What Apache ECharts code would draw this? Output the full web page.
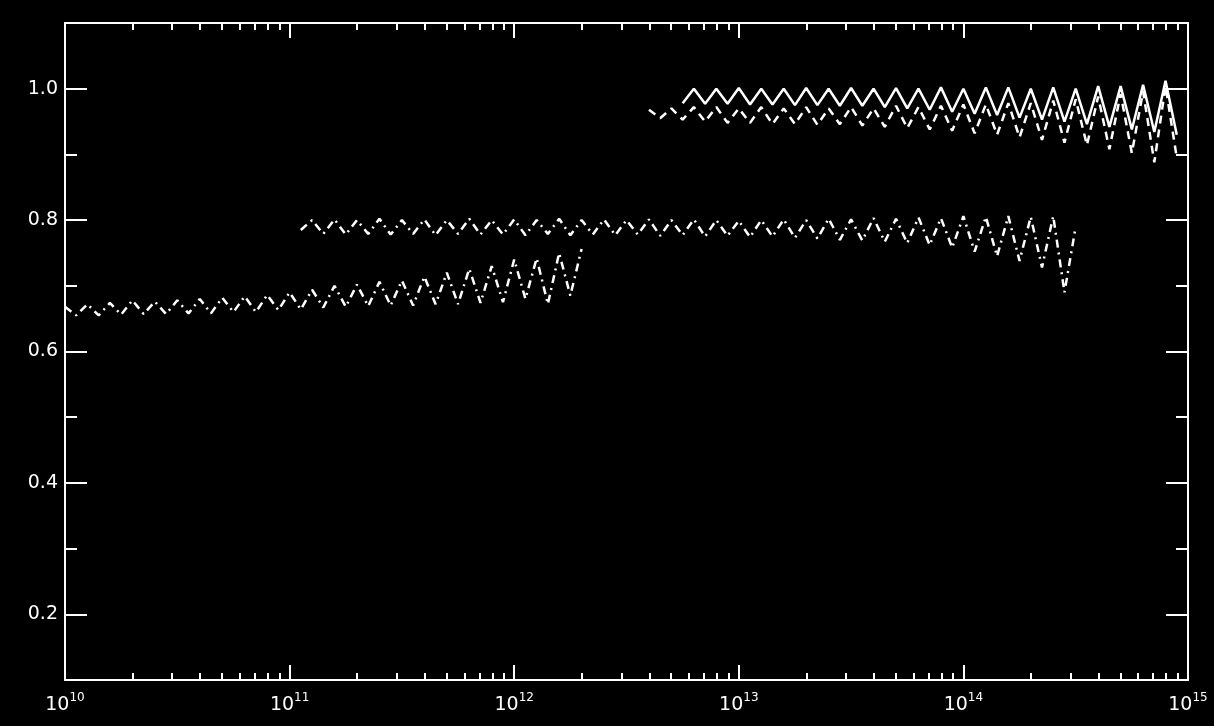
<!DOCTYPE html>
<html>
<head>
<meta charset="utf-8">
<script src="https://cdn.jsdelivr.net/npm/echarts@6/dist/echarts.min.js"></script>
<style>
    html, body {margin: 0; padding: 0; background: #000;}
    #chart {width: 1214px; height: 726px;}
</style>
</head>
<body>
<div id="chart"></div>
<script>
// tick labels
const yLabelValues = [0.2, 0.4, 0.6, 0.8, 1.0]
const yMinorValues = [0.3, 0.5, 0.7, 0.9]
const xDecades = [10, 11, 12, 13, 14]
const xMinorMults = [2, 3, 4, 5, 6, 7, 8, 9]

// series: x as log10 of the value, y
const lowExp = [10.00, 10.05, 10.10, 10.15, 10.20, 10.25, 10.30, 10.35, 10.40, 10.45, 10.50, 10.55, 10.60, 10.65, 10.70, 10.75,
    10.80, 10.85, 10.90, 10.95, 11.00, 11.05, 11.10, 11.15, 11.20, 11.25, 11.30, 11.35, 11.40, 11.45, 11.50, 11.55, 11.60, 11.65,
    11.70, 11.75, 11.80, 11.85, 11.90, 11.95, 12.00, 12.05, 12.10, 12.15, 12.20, 12.25, 12.30]
const lowVal = [0.668, 0.655, 0.672, 0.655, 0.674, 0.656, 0.678, 0.657, 0.676, 0.657, 0.678, 0.658, 0.680, 0.658, 0.682, 0.660,
    0.684, 0.660, 0.686, 0.663, 0.690, 0.664, 0.694, 0.667, 0.700, 0.668, 0.702, 0.669, 0.706, 0.670, 0.708, 0.670, 0.714, 0.672,
    0.720, 0.672, 0.726, 0.674, 0.730, 0.675, 0.740, 0.680, 0.742, 0.672, 0.750, 0.685, 0.756]

const midExp = [11.05, 11.10, 11.15, 11.20, 11.25, 11.30, 11.35, 11.40, 11.45, 11.50, 11.55, 11.60, 11.65, 11.70, 11.75, 11.80,
    11.85, 11.90, 11.95, 12.00, 12.05, 12.10, 12.15, 12.20, 12.25, 12.30, 12.35, 12.40, 12.45, 12.50, 12.55, 12.60, 12.65, 12.70,
    12.75, 12.80, 12.85, 12.90, 12.95, 13.00, 13.05, 13.10, 13.15, 13.20, 13.25, 13.30, 13.35, 13.40, 13.45, 13.50, 13.55, 13.60,
    13.65, 13.70, 13.75, 13.80, 13.85, 13.90, 13.95, 14.00, 14.05, 14.10, 14.15, 14.20, 14.25, 14.30, 14.35, 14.40, 14.45, 14.50]
const midVal = [0.785, 0.800, 0.779, 0.801, 0.778, 0.800, 0.779, 0.802, 0.778, 0.800, 0.779, 0.801, 0.777, 0.800, 0.779, 0.802,
    0.778, 0.800, 0.778, 0.801, 0.777, 0.800, 0.779, 0.802, 0.777, 0.800, 0.778, 0.801, 0.777, 0.800, 0.778, 0.801, 0.776, 0.800,
    0.777, 0.801, 0.775, 0.800, 0.776, 0.799, 0.774, 0.800, 0.775, 0.801, 0.773, 0.800, 0.772, 0.802, 0.770, 0.801, 0.769, 0.803,
    0.767, 0.802, 0.765, 0.804, 0.762, 0.803, 0.758, 0.806, 0.752, 0.805, 0.745, 0.806, 0.738, 0.805, 0.728, 0.806, 0.690, 0.790]

const topExp = [12.75, 12.80, 12.85, 12.90, 12.95, 13.00, 13.05, 13.10, 13.15, 13.20, 13.25, 13.30, 13.35, 13.40, 13.45, 13.50,
    13.55, 13.60, 13.65, 13.70, 13.75, 13.80, 13.85, 13.90, 13.95, 14.00, 14.05, 14.10, 14.15, 14.20, 14.25, 14.30, 14.35, 14.40,
    14.45, 14.50, 14.55, 14.60, 14.65, 14.70, 14.75, 14.80, 14.85, 14.90, 14.95]
const topVal = [0.978, 1.000, 0.977, 1.000, 0.977, 1.001, 0.976, 1.000, 0.976, 1.000, 0.975, 1.001, 0.975, 1.000, 0.974, 1.001,
    0.974, 1.000, 0.972, 1.001, 0.970, 1.000, 0.968, 1.002, 0.965, 1.000, 0.962, 1.002, 0.960, 1.002, 0.956, 1.000, 0.953, 1.002,
    0.950, 1.000, 0.946, 1.004, 0.942, 1.004, 0.938, 1.006, 0.934, 1.012, 0.930]

const top2Exp = [12.60, 12.65, 12.70, 12.75, 12.80, 12.85, 12.90, 12.95, 13.00, 13.05, 13.10, 13.15, 13.20, 13.25, 13.30, 13.35,
    13.40, 13.45, 13.50, 13.55, 13.60, 13.65, 13.70, 13.75, 13.80, 13.85, 13.90, 13.95, 14.00, 14.05, 14.10, 14.15, 14.20, 14.25,
    14.30, 14.35, 14.40, 14.45, 14.50, 14.55, 14.60, 14.65, 14.70, 14.75, 14.80, 14.85, 14.90, 14.95]
const top2Val = [0.968, 0.955, 0.970, 0.953, 0.972, 0.950, 0.972, 0.948, 0.970, 0.948, 0.972, 0.946, 0.970, 0.946, 0.972, 0.945,
    0.970, 0.946, 0.972, 0.944, 0.970, 0.942, 0.974, 0.940, 0.972, 0.938, 0.974, 0.936, 0.976, 0.932, 0.976, 0.930, 0.978, 0.926,
    0.978, 0.922, 0.982, 0.918, 0.984, 0.914, 0.988, 0.908, 0.992, 0.902, 0.996, 0.888, 1.004, 0.895]

const white = '#fff'
const xMinorExp = []
xDecades.forEach((d) => xMinorMults.forEach((m) => xMinorExp.push(d + Math.log10(m))))

const toPairs = (exps, vals) => exps.map((e, i) => [Math.pow(10, e), vals[i]])

const chart = echarts.init(document.getElementById('chart'))

const tickStyle = {color: white, width: 2}
const logAxis = (position, showLabel) => ({
    type: 'log',
    logBase: 10,
    min: 1e10,
    max: 1e15,
    position: position,
    axisLine: {show: true, onZero: false, lineStyle: {color: white, width: 2}},
    axisTick: {show: true, inside: true, length: 15, lineStyle: tickStyle},
    splitLine: {show: false},
    minorTick: {show: false},
    axisLabel: {
        show: showLabel,
        margin: 12,
        formatter: (v) => '{b|10}{s|' + Math.round(Math.log10(v)) + '}',
        rich: {
            b: {color: white, fontFamily: 'DejaVu Sans', fontSize: 19, lineHeight: 26},
            s: {color: white, fontFamily: 'DejaVu Sans', fontSize: 12, lineHeight: 14, verticalAlign: 'top'},
        },
    },
})
const minorXAxis = (position) => ({
    type: 'value',
    min: 10,
    max: 15,
    position: position,
    axisLine: {show: false},
    axisTick: {show: true, inside: true, length: 7, customValues: xMinorExp, lineStyle: tickStyle},
    axisLabel: {show: false},
    splitLine: {show: false},
})
const valueAxis = (position, showLabel) => ({
    type: 'value',
    min: 0.1,
    max: 1.1,
    position: position,
    axisLine: {show: true, onZero: false, lineStyle: {color: white, width: 2}},
    axisTick: {show: true, inside: true, length: 22, customValues: yLabelValues, lineStyle: tickStyle},
    axisLabel: {
        show: showLabel,
        customValues: yLabelValues,
        margin: 7,
        color: white,
        fontFamily: 'DejaVu Sans',
        fontSize: 19,
        formatter: (v) => v.toFixed(1),
    },
    splitLine: {show: false},
})
const minorYAxis = (position) => ({
    type: 'value',
    min: 0.1,
    max: 1.1,
    position: position,
    axisLine: {show: false},
    axisTick: {show: true, inside: true, length: 12, customValues: yMinorValues, lineStyle: tickStyle},
    axisLabel: {show: false},
    splitLine: {show: false},
})

const lineSeries = (exps, vals, dash, width) => ({
    type: 'line',
    xAxisIndex: 0,
    yAxisIndex: 0,
    data: toPairs(exps, vals),
    symbol: 'none',
    silent: true,
    lineStyle: {color: white, width: width, type: dash, cap: 'butt'},
})

chart.setOption({
    backgroundColor: '#000',
    animation: false,
    grid: {left: 65, right: 26, top: 23, bottom: 46},
    xAxis: [logAxis('bottom', true), logAxis('top', false), minorXAxis('bottom'), minorXAxis('top')],
    yAxis: [valueAxis('left', true), valueAxis('right', false), minorYAxis('left'), minorYAxis('right')],
    series: [
        lineSeries(lowExp, lowVal, [8, 5, 2, 5], 2.5),
        lineSeries(midExp, midVal, [8, 5, 2, 5], 2.5),
        lineSeries(top2Exp, top2Val, [8, 6], 2.5),
        lineSeries(topExp, topVal, 'solid', 2.5),
    ],
})
</script>
</body>
</html>
